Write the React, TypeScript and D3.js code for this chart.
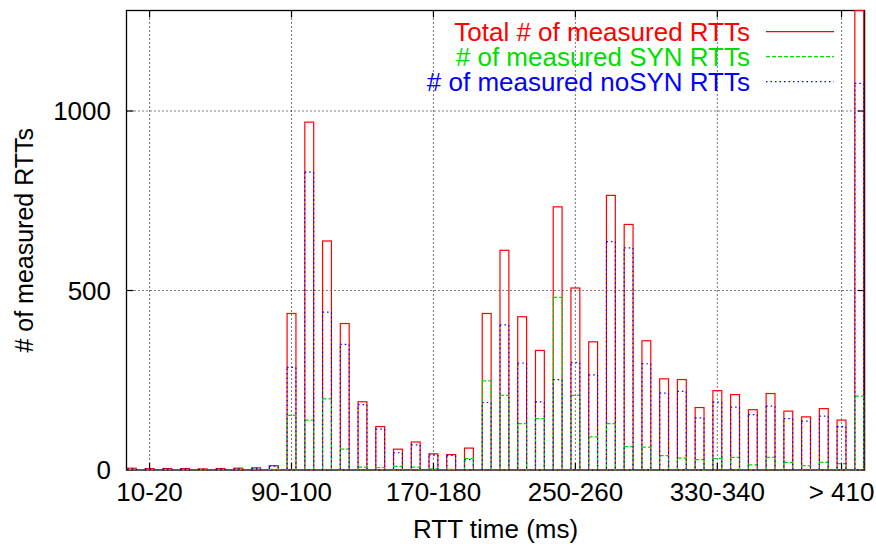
import React from "react";
import * as d3 from "d3";

const categories = [
  "0-10","10-20","20-30","30-40","40-50","50-60","60-70","70-80","80-90","90-100",
  "100-110","110-120","120-130","130-140","140-150","150-160","160-170","170-180","180-190","190-200",
  "200-210","210-220","220-230","230-240","240-250","250-260","260-270","270-280","280-290","290-300",
  "300-310","310-320","320-330","330-340","340-350","350-360","360-370","370-380","380-390","390-400",
  "400-410","> 410"
];

const totalRTT = [
  5, 4, 4, 4, 3, 4, 5, 6, 12, 436,
  969, 638, 408, 190, 121, 58, 78, 45, 43, 61,
  436, 612, 427, 333, 733, 507, 357, 765, 684, 360,
  254, 252, 174, 221, 210, 168, 213, 164, 148, 171,
  139, 1280
];
const synRTT = [
  2, 1, 1, 1, 1, 1, 2, 2, 2, 152,
  139, 198, 58, 8, 7, 10, 8, 3, 2, 32,
  248, 208, 129, 143, 481, 208, 92, 129, 65, 64,
  40, 33, 29, 32, 35, 14, 35, 21, 12, 21,
  18, 206
];
const noSynRTT = [
  3, 3, 3, 3, 2, 3, 3, 4, 10, 286,
  830, 440, 350, 182, 114, 48, 70, 42, 41, 29,
  188, 404, 298, 190, 252, 299, 265, 636, 619, 296,
  214, 219, 145, 189, 175, 154, 178, 143, 136, 150,
  121, 1077
];

const xTickIndex = [1, 9, 17, 25, 33, 40];
const xTickLabels = ["10-20", "90-100", "170-180", "250-260", "330-340", "> 410"];
const yTicks = [0, 500, 1000];

const seriesNames = ["Total # of measured RTTs", "# of measured SYN RTTs", "# of measured noSYN RTTs"];
const seriesColors = ["#ff0000", "#00dd00", "#0000ff"];
const seriesDash = ["none", "4,2", "1.5,3"];

const SX = 1.04;
const FS = 25;

function T(props: { x: number; y: number; anchor: string; fill: string; children: React.ReactNode }) {
  return (
    <text transform={`translate(${props.x},${props.y}) scale(${SX},1)`} textAnchor={props.anchor}
      fontSize={FS} fill={props.fill}>{props.children}</text>
  );
}

export default function App() {
  const W = 876, H = 548;
  const left = 126.5, right = 864.6, top = 10.5, bottom = 470;
  const x = d3.scaleLinear().domain([-0.3, 41.3]).range([left, right]);
  const y = d3.scaleLinear().domain([0, 1280]).range([bottom, top]);
  const bw = 0.5;
  const font = "'Liberation Sans', Arial, sans-serif";
  const series = [totalRTT, synRTT, noSynRTT];

  return (
    <svg width={W} height={H} style={{ position: "absolute", left: 0, top: 0, background: "#fff" }}
      fontFamily={font}>
      <defs>
        <clipPath id="plotclip">
          <rect x={left - 1} y={top - 1} width={right - left + 2} height={bottom - top + 2} />
        </clipPath>
      </defs>
      {/* grid */}
      {xTickIndex.map((t, i) => (
        <line key={"gx" + i} x1={x(t)} x2={x(t)} y1={top} y2={bottom} stroke="#000" strokeWidth={1.1}
          strokeDasharray="1,3" />
      ))}
      {yTicks.filter(v => v > 0).map((v, i) => (
        <line key={"gy" + i} x1={left} x2={right} y1={y(v)} y2={y(v)} stroke="#000" strokeWidth={1.1}
          strokeDasharray="1,3" />
      ))}
      {/* ticks */}
      {xTickIndex.map((t, i) => (
        <g key={"tx" + i}>
          <line x1={x(t)} x2={x(t)} y1={bottom} y2={bottom - 7} stroke="#000" strokeWidth={1.2} />
          <line x1={x(t)} x2={x(t)} y1={top} y2={top + 7} stroke="#000" strokeWidth={1.2} />
          <T x={x(t)} y={501} anchor="middle" fill="#000">{xTickLabels[i]}</T>
        </g>
      ))}
      {yTicks.map((v, i) => (
        <g key={"ty" + i}>
          <line x1={left} x2={left + 7} y1={y(v)} y2={y(v)} stroke="#000" strokeWidth={1.2} />
          <line x1={right} x2={right - 7} y1={y(v)} y2={y(v)} stroke="#000" strokeWidth={1.2} />
          <T x={111} y={y(v) + 9} anchor="end" fill="#000">{v}</T>
        </g>
      ))}
      {/* border */}
      <rect x={left} y={top} width={right - left} height={bottom - top} fill="none" stroke="#000" strokeWidth={1.3} />
      {/* bars */}
      <g clipPath="url(#plotclip)">
        {series.map((vals, s) => (
          <g key={"s" + s}>
            {vals.map((v, i) => (
              <rect key={i} x={x(i - bw / 2)} y={y(v)} width={x(i + bw / 2) - x(i - bw / 2)}
                height={y(0) - y(v)} fill="none" stroke={seriesColors[s]} strokeWidth={1.2}
                strokeDasharray={seriesDash[s]} />
            ))}
          </g>
        ))}
      </g>
      {/* legend */}
      {seriesNames.map((n, s) => (
        <g key={"l" + s}>
          <T x={750} y={40.5 + s * 25} anchor="end" fill={seriesColors[s]}>{n}</T>
          <line x1={766} x2={834} y1={31.7 + s * 25} y2={31.7 + s * 25} stroke={seriesColors[s]}
            strokeWidth={1.2} strokeDasharray={seriesDash[s]} />
        </g>
      ))}
      {/* axis titles */}
      <T x={(left + right) / 2} y={538} anchor="middle" fill="#000">RTT time (ms)</T>
      <text transform={`translate(33,${(top + bottom) / 2}) rotate(-90)`} textAnchor="middle" fontSize={FS}
        fill="#000"># of measured RTTs</text>
    </svg>
  );
}
